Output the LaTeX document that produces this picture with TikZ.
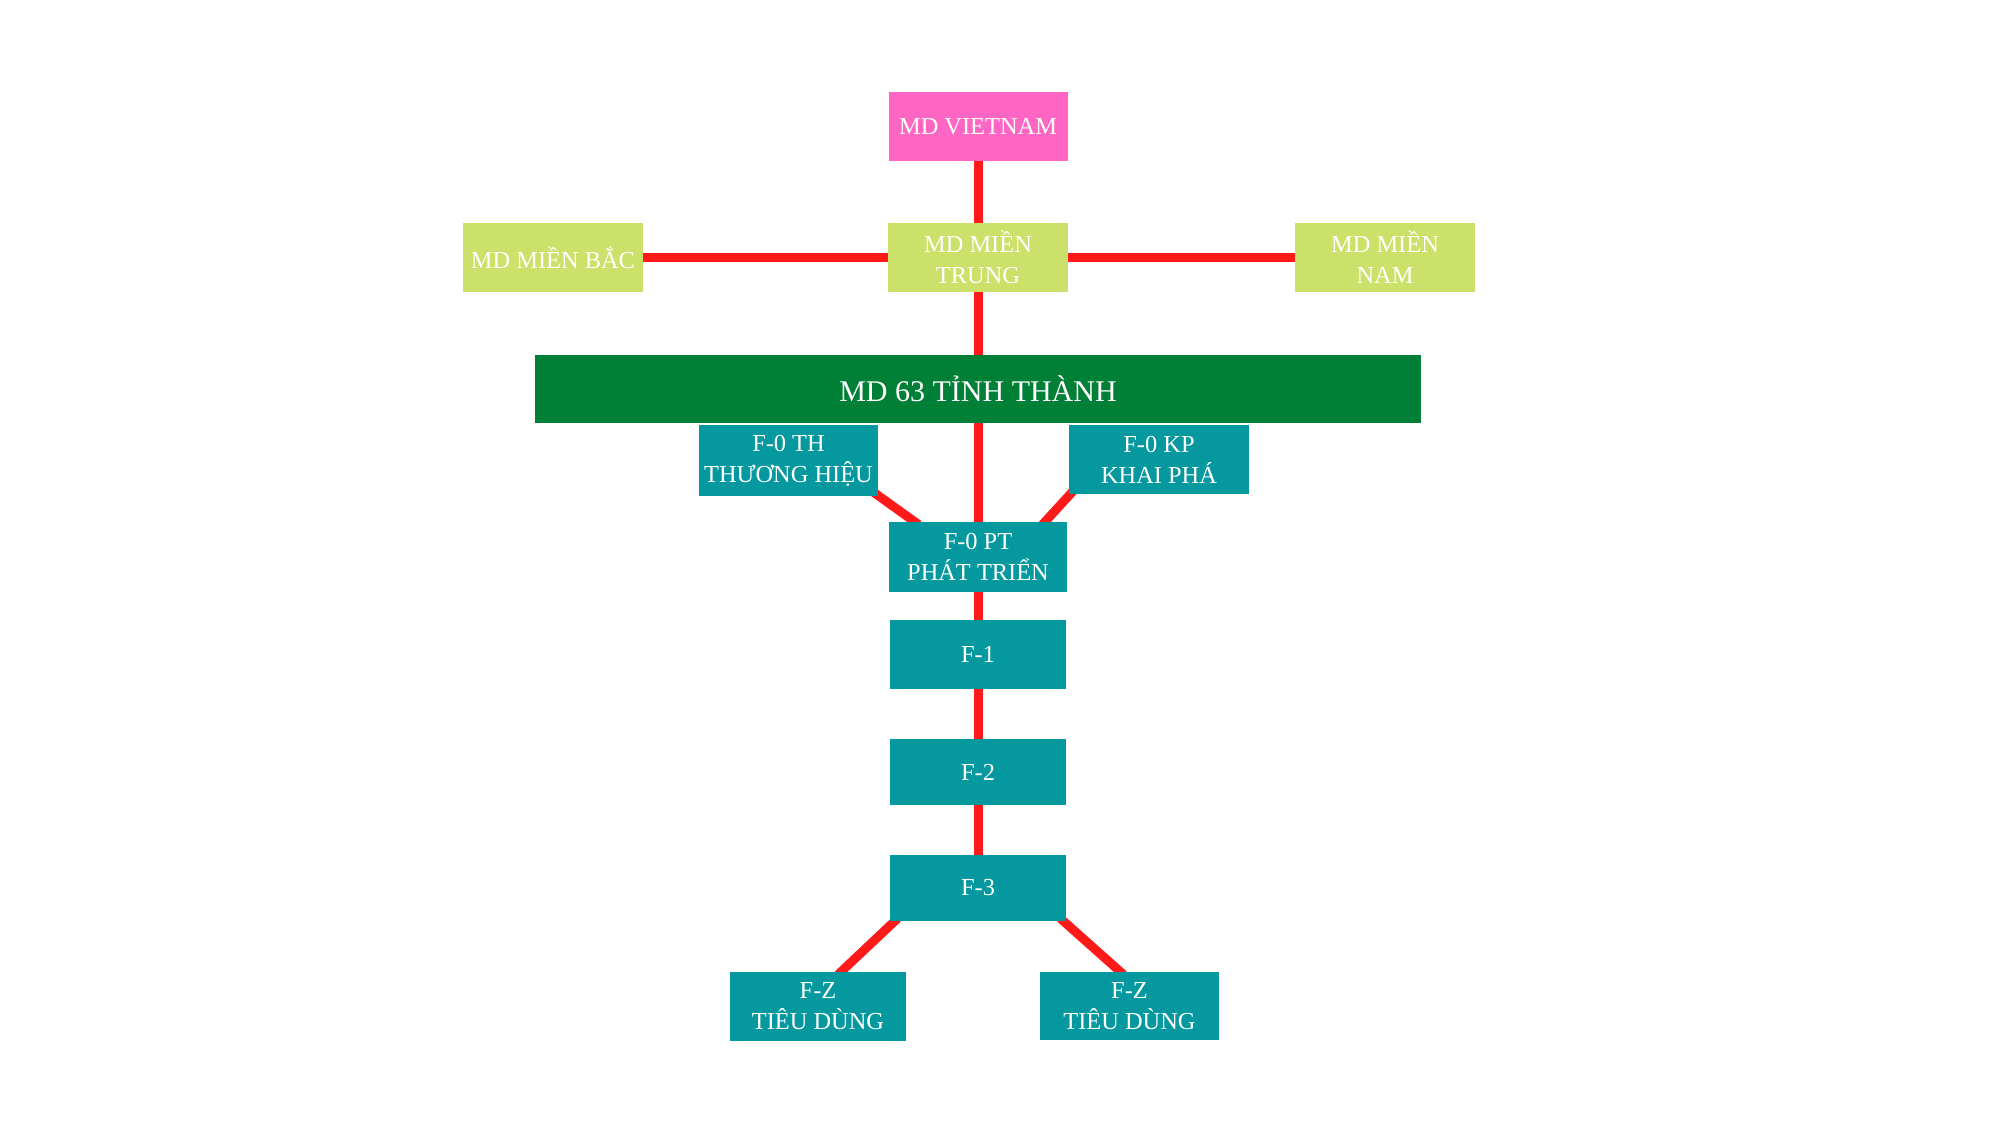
\documentclass[tikz,border=0pt]{standalone}
\usepackage{fontspec}
\setmainfont{Liberation Serif}
\usetikzlibrary{calc}
\pgfdeclarelayer{background}
\pgfsetlayers{background,main}
\definecolor{pinkbox}{HTML}{FF66C4}
\definecolor{limebox}{HTML}{CBE16A}
\definecolor{greenbox}{HTML}{007F36}
\definecolor{tealbox}{HTML}{05989E}
\definecolor{redline}{HTML}{FF1A1A}
\tikzset{
  box/.style={rectangle, inner sep=0pt, text=white, align=center,
    font=\fontsize{12.2pt}{15.5pt}\selectfont},
  pinkb/.style={box, fill=pinkbox},
  limeb/.style={box, fill=limebox},
  greenb/.style={box, fill=greenbox, font=\fontsize{15pt}{18pt}\selectfont},
  tealb/.style={box, fill=tealbox},
  conn/.style={draw=redline, line width=4.5pt}
}
\begin{document}
\begin{tikzpicture}[x=0.5pt,y=-0.5pt]
\useasboundingbox (0,0) rectangle (2000,1125);
\node[pinkb, minimum width=89.5pt, minimum height=34.5pt] (vn) at (978,126.5) {MD VIETNAM};
\node[limeb, minimum width=90pt, minimum height=34.5pt] (bac) at (553,257.5) {MD MIỀN BẮC};
\node[limeb, minimum width=90pt, minimum height=34.5pt] (trung) at (978,257.5) {MD MIỀN\\TRUNG};
\node[limeb, minimum width=90pt, minimum height=34.5pt] (nam) at (1385,257.5) {MD MIỀN\\NAM};
\node[greenb, minimum width=443pt, minimum height=34pt] (tinh) at (978,389) {MD 63 TỈNH THÀNH};
\node[tealb, minimum width=89.5pt, minimum height=35.5pt] (th) at (788.5,460.5) {F-0 TH\\THƯƠNG HIỆU};
\node[tealb, minimum width=90pt, minimum height=34.5pt] (kp) at (1159,459.5) {F-0 KP\\KHAI PHÁ};
\node[tealb, minimum width=89pt, minimum height=35pt] (pt) at (978,557) {F-0 PT\\PHÁT TRIỂN};
\node[tealb, minimum width=88pt, minimum height=34.5pt] (f1) at (978,654.5) {F-1};
\node[tealb, minimum width=88pt, minimum height=33pt] (f2) at (978,772) {F-2};
\node[tealb, minimum width=88pt, minimum height=33pt] (f3) at (978,888) {F-3};
\node[tealb, minimum width=88pt, minimum height=34.5pt] (fzl) at (818,1006.5) {F-Z\\TIÊU DÙNG};
\node[tealb, minimum width=89.5pt, minimum height=34pt] (fzr) at (1129.5,1006) {F-Z\\TIÊU DÙNG};
\begin{pgfonlayer}{background}
\draw[conn] (vn) -- (trung);
\draw[conn] (bac) -- (trung);
\draw[conn] (trung) -- (nam);
\draw[conn] (trung) -- (tinh);
\draw[conn] (tinh) -- (pt);
\draw[conn] ($(th.south east)+(-6,-5)$) -- ($(pt.north west)+(30,3)$);
\draw[conn] ($(kp.south west)+(6,-5)$) -- ($(pt.north east)+(-25,3)$);
\draw[conn] (pt) -- (f1);
\draw[conn] (f1) -- (f2);
\draw[conn] (f2) -- (f3);
\draw[conn] ($(f3.south west)+(8,-3)$) -- ($(fzl.north)+(20,3)$);
\draw[conn] ($(f3.south east)+(-6,-3)$) -- ($(fzr.north)+(-6,3)$);
\end{pgfonlayer}
\end{tikzpicture}
\end{document}
